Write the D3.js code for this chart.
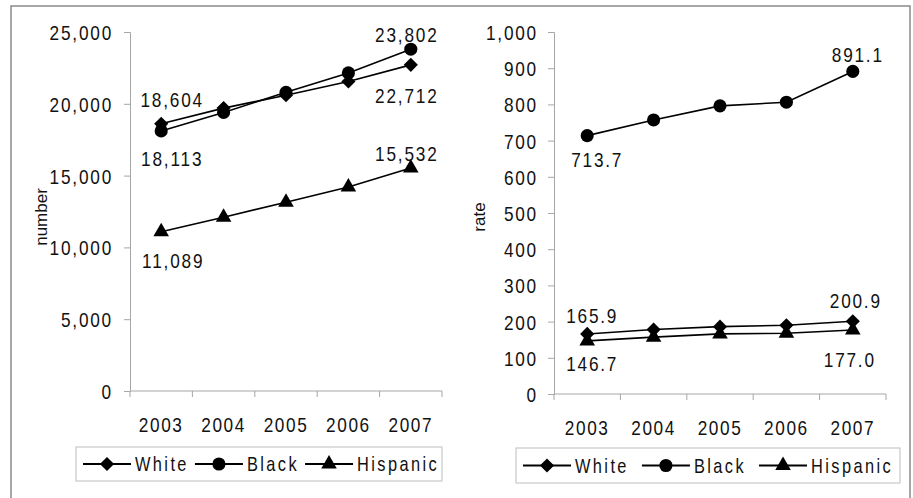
<!DOCTYPE html>
<html lang="en">
<head>
<meta charset="utf-8">
<title>Number and rate by race</title>
<style>
  body { margin: 0; background: #fff; }
  svg { display: block; }
  text { font-family: "Liberation Sans", Arial, sans-serif; fill: #111; }
</style>
<script src="https://cdn.jsdelivr.net/npm/d3@7"></script>
</head>
<body>
<script>
// ---- data ----
var years = ["2003", "2004", "2005", "2006", "2007"];
var seriesNames = ["White", "Black", "Hispanic"];

var whiteNumber    = [18604, 19700, 20600, 21550, 22712];
var blackNumber    = [18113, 19400, 20800, 22150, 23802];
var hispanicNumber = [11089, 12100, 13150, 14200, 15532];

var whiteRate    = [165.9, 178, 186, 190, 200.9];
var blackRate    = [713.7, 757, 796, 806, 891.1];
var hispanicRate = [146.7, 157, 166, 168, 177.0];

var numberTicks = [0, 5000, 10000, 15000, 20000, 25000];
var rateTicks   = [0, 100, 200, 300, 400, 500, 600, 700, 800, 900, 1000];

var width = 913, height = 498;
var SX = 0.82; // horizontal squeeze, no narrow font installed

var svg = d3.select("body").append("svg")
  .attr("width", width)
  .attr("height", height);

// outer frame (bottom is cut off in the original)
svg.append("path")
  .attr("d", "M11,520V6H910V520")
  .attr("fill", "none")
  .attr("stroke", "#8a8a8a")
  .attr("stroke-width", 1.5);

var markerPath = {
  White: d3.symbol(d3.symbolSquare, 100)(),
  Black: d3.symbol(d3.symbolCircle, 135)(),
  Hispanic: d3.symbol(d3.symbolTriangle, 105)()
};
function marker(g, name, x, y) {
  g.append("path")
    .attr("d", markerPath[name])
    .attr("transform", "translate(" + x + "," + y + ")" + (name == "White" ? " rotate(45)" : ""))
    .attr("fill", "#000");
}

// squeeze text horizontally around its anchor
function narrow(sel) {
  sel.each(function() {
    var t = d3.select(this);
    var x = +t.attr("x") || 0, y = +t.attr("y") || 0;
    t.attr("x", 0).attr("y", 0)
      .attr("transform", "translate(" + x + "," + y + ") scale(" + SX + ",1)");
  });
}

function drawChart(opt) {
  var g = svg.append("g");

  var x = d3.scaleBand().domain(years).range([opt.x0, opt.x1]).paddingInner(0).paddingOuter(0);
  var y = d3.scaleLinear().domain([0, opt.ticks[opt.ticks.length - 1]]).range([opt.y0, opt.y1]);

  // y axis
  var yAxis = g.append("g")
    .attr("transform", "translate(" + opt.x0 + ",0)")
    .call(d3.axisLeft(y).tickValues(opt.ticks).tickSize(6).tickPadding(opt.yPad).tickFormat(d3.format(",")));
  yAxis.attr("font-family", null).attr("font-size", null);
  yAxis.select(".domain").attr("stroke", "#a6a6a6");
  yAxis.selectAll(".tick line").attr("stroke", "#a6a6a6");
  yAxis.selectAll(".tick text")
    .style("font-size", "21px")
    .style("letter-spacing", (1.8 / SX) + "px")
    .attr("fill", "#111")
    .attr("dy", "0.36em")
    .call(narrow);

  // x axis: labels centred, ticks on category boundaries
  var xAxis = g.append("g")
    .attr("transform", "translate(0," + opt.y0 + ")")
    .call(d3.axisBottom(x).tickSize(0).tickPadding(opt.xPad));
  xAxis.attr("font-family", null).attr("font-size", null);
  xAxis.select(".domain").attr("stroke", "#a6a6a6").attr("d", "M" + opt.x0 + ",0H" + opt.x1);
  xAxis.selectAll(".tick text")
    .style("font-size", "21px")
    .style("letter-spacing", (1.6 / SX) + "px")
    .attr("fill", "#111")
    .call(narrow);
  g.selectAll(".xtick")
    .data(d3.range(years.length + 1))
    .enter().append("line")
    .attr("x1", function(i) { return opt.x0 + i * x.step(); })
    .attr("x2", function(i) { return opt.x0 + i * x.step(); })
    .attr("y1", opt.y0)
    .attr("y2", opt.y0 + 6)
    .attr("stroke", "#a6a6a6");

  // y title
  g.append("text")
    .attr("transform", "translate(" + opt.titleX + "," + opt.titleY + ") rotate(-90)")
    .attr("text-anchor", "middle")
    .style("font-size", "17px")
    .text(opt.title);

  var cx = function(i) { return x(years[i]) + x.bandwidth() / 2; };
  var line = d3.line().x(function(d, i) { return cx(i); }).y(function(d) { return y(d); });

  opt.series.forEach(function(vals, s) {
    g.append("path")
      .attr("d", line(vals))
      .attr("fill", "none")
      .attr("stroke", "#000")
      .attr("stroke-width", 1.6);
    vals.forEach(function(v, i) { marker(g, seriesNames[s], cx(i), y(v)); });
  });

  // value labels on first and last points
  opt.labels.forEach(function(l) {
    var v = opt.series[l.s][l.i];
    g.append("text")
      .attr("x", cx(l.i) + l.dx)
      .attr("y", y(v) + l.dy)
      .attr("text-anchor", "middle")
      .style("font-size", "21px")
      .style("letter-spacing", (1.8 / SX) + "px")
      .text(opt.fmt(v))
      .call(narrow);
  });

  // legend
  var lg = g.append("g");
  lg.append("rect")
    .attr("x", opt.legX).attr("y", opt.legY)
    .attr("width", opt.legW).attr("height", opt.legH)
    .attr("fill", "#fff").attr("stroke", "#c8c8c8").attr("stroke-width", 1.2);
  var lx = opt.legX + 7;
  var ly = opt.legY + opt.legH / 2;
  seriesNames.forEach(function(name) {
    lg.append("line")
      .attr("x1", lx).attr("x2", lx + 48)
      .attr("y1", ly).attr("y2", ly)
      .attr("stroke", "#000").attr("stroke-width", 2);
    marker(lg, name, lx + 24, ly);
    var t = lg.append("text")
      .attr("x", lx + 52)
      .attr("y", ly + 7)
      .style("font-size", "20px")
      .style("letter-spacing", (2.4 / SX) + "px")
      .text(name);
    var w = t.node().getComputedTextLength() * SX;
    t.call(narrow);
    lx = lx + 52 + w + opt.legGap;
  });
}

drawChart({
  x0: 130, x1: 442, y0: 391, y1: 32,
  ticks: numberTicks, yPad: 11, xPad: 26,
  title: "number", titleX: 47, titleY: 217,
  series: [whiteNumber, blackNumber, hispanicNumber],
  fmt: d3.format(","),
  labels: [
    { s: 0, i: 0, dx: 11, dy: -17 },
    { s: 1, i: 0, dx: 11, dy: 35 },
    { s: 2, i: 0, dx: 12, dy: 36 },
    { s: 1, i: 4, dx: -4, dy: -7 },
    { s: 0, i: 4, dx: -4, dy: 38 },
    { s: 2, i: 4, dx: -4, dy: -7 }
  ],
  legX: 76, legY: 447, legW: 366, legH: 34, legGap: 6
});

drawChart({
  x0: 554, x1: 886, y0: 394, y1: 32,
  ticks: rateTicks, yPad: 10, xPad: 26,
  title: "rate", titleX: 485, titleY: 217,
  series: [whiteRate, blackRate, hispanicRate],
  fmt: d3.format(".1f"),
  labels: [
    { s: 1, i: 0, dx: 10, dy: 31 },
    { s: 1, i: 4, dx: 5, dy: -9 },
    { s: 0, i: 0, dx: 5, dy: -11 },
    { s: 2, i: 0, dx: 5, dy: 30 },
    { s: 0, i: 4, dx: 3, dy: -13 },
    { s: 2, i: 4, dx: -3, dy: 37 }
  ],
  legX: 516, legY: 448, legW: 384, legH: 35, legGap: 13
});
</script>
</body>
</html>
